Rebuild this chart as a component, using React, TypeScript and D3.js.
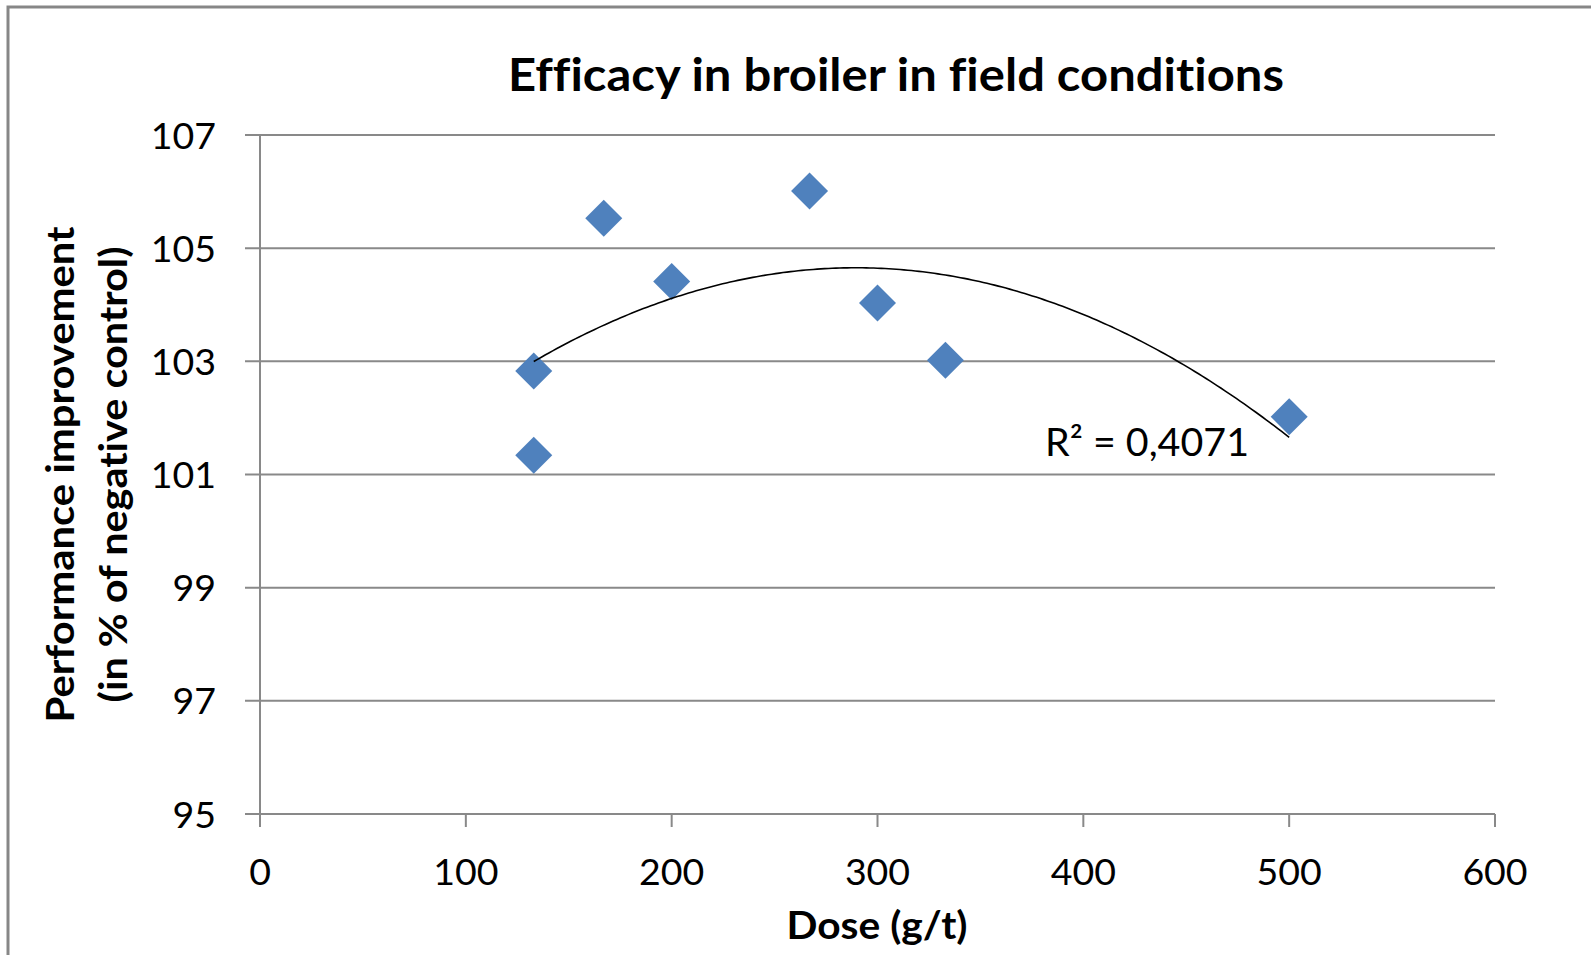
import React from 'react';
import * as d3 from 'd3';

// ---- data ----
const doses = [133, 133, 167, 200, 267, 300, 333, 500];
const performance = [102.83, 101.34, 105.53, 104.41, 106.01, 104.03, 103.02, 102.02];
const xTicks = [0, 100, 200, 300, 400, 500, 600];
const yTicks = [95, 97, 99, 101, 103, 105, 107];
const chartTitle = 'Efficacy in broiler in field conditions';
const xTitle = 'Dose (g/t)';
const yTitleLine1 = 'Performance improvement';
const yTitleLine2 = '(in % of negative control)';
const r2Label = 'R\u00B2 = 0,4071';

// polynomial (order 2) least-squares trend line, as Excel computes it
function quadFit(xs: number[], ys: number[]) {
  const S = (f: (x: number, y: number) => number) => xs.reduce((s, x, i) => s + f(x, ys[i]), 0);
  const n = xs.length;
  const s1 = S((x) => x), s2 = S((x) => x * x), s3 = S((x) => x ** 3), s4 = S((x) => x ** 4);
  const t0 = S((_, y) => y), t1 = S((x, y) => x * y), t2 = S((x, y) => x * x * y);
  const M = [
    [n, s1, s2, t0],
    [s1, s2, s3, t1],
    [s2, s3, s4, t2],
  ];
  for (let i = 0; i < 3; i++) {
    let p = i;
    for (let r = i + 1; r < 3; r++) if (Math.abs(M[r][i]) > Math.abs(M[p][i])) p = r;
    [M[i], M[p]] = [M[p], M[i]];
    for (let r = 0; r < 3; r++) {
      if (r === i) continue;
      const f = M[r][i] / M[i][i];
      for (let c = i; c < 4; c++) M[r][c] -= f * M[i][c];
    }
  }
  const a = M[0][3] / M[0][0], b = M[1][3] / M[1][1], c = M[2][3] / M[2][2];
  return (x: number) => a + b * x + c * x * x;
}

const W = 1591;
const H = 955;
const plot = { left: 260, right: 1495, top: 135, bottom: 814 };
const FONT = 'Lato, "Open Sans", sans-serif';
const GRID = '#898989';
const BLUE = '#4F81BD';
const noLig = { fontVariantLigatures: 'none' as const, fontFeatureSettings: '"liga" 0, "clig" 0' };
const MARKER_HALF = 18.5; // half-diagonal of diamond marker, px

export default function App() {
  const x = d3.scaleLinear().domain([0, 600]).range([plot.left, plot.right]);
  const y = d3.scaleLinear().domain([95, 107]).range([plot.bottom, plot.top]);

  const fit = quadFit(doses, performance);
  const xmin = d3.min(doses) as number;
  const xmax = d3.max(doses) as number;
  const trendPts = d3.range(0, 201).map((i) => xmin + ((xmax - xmin) * i) / 200);
  const trendPath = d3
    .line<number>()
    .x((d) => x(d))
    .y((d) => y(fit(d)))(trendPts) as string;

  const symSize = Math.pow(MARKER_HALF / 0.62625, 2);
  const diamond = d3.symbol().type(d3.symbolDiamond2).size(symSize)() as string;

  const points = doses.map((d, i) => ({ d, v: performance[i] }));

  return (
    <div style={{ position: 'absolute', left: 0, top: 0, width: W, height: H, overflow: 'hidden', background: '#fff' }}>
      <svg width={W} height={H} style={{ display: 'block', ...noLig }}>
        <rect x={0} y={0} width={W} height={H} fill="#fff" />
        {/* chart frame */}
        <rect x={8} y={7} width={W + 20} height={H + 20} fill="none" stroke="#878787" strokeWidth={3} />

        {/* title */}
        <text
          x={896}
          y={91}
          textAnchor="middle"
          fontFamily={FONT}
          fontWeight="bold"
          fontSize={46}
          fill="#000"
          textLength={776}
          lengthAdjust="spacingAndGlyphs"
          style={noLig}
        >
          {chartTitle}
        </text>

        {/* horizontal gridlines + y ticks */}
        {yTicks.map((t) => (
          <g key={'y' + t}>
            <line x1={plot.left - 15} x2={plot.right} y1={y(t)} y2={y(t)} stroke={GRID} strokeWidth={2} />
            <text
              x={216}
              y={y(t) + 13.5}
              textAnchor="end"
              fontFamily={FONT}
              fontSize={37.5}
              fill="#000"
            >
              {t}
            </text>
          </g>
        ))}

        {/* y axis line */}
        <line x1={plot.left} x2={plot.left} y1={plot.top} y2={plot.bottom} stroke={GRID} strokeWidth={2} />

        {/* x ticks */}
        {xTicks.map((t) => (
          <g key={'x' + t}>
            <line x1={x(t)} x2={x(t)} y1={plot.bottom} y2={plot.bottom + 13} stroke={GRID} strokeWidth={2} />
            <text x={x(t)} y={885} textAnchor="middle" fontFamily={FONT} fontSize={37.5} fill="#000">
              {t}
            </text>
          </g>
        ))}

        {/* axis titles */}
        <text
          x={877}
          y={939}
          textAnchor="middle"
          fontFamily={FONT}
          fontWeight="bold"
          fontSize={39}
          fill="#000"
          textLength={181}
          lengthAdjust="spacingAndGlyphs"
          style={noLig}
        >
          {xTitle}
        </text>
        <g transform={`translate(74, ${(plot.top + plot.bottom) / 2}) rotate(-90)`}>
          <text
            x={0}
            y={0}
            textAnchor="middle"
            fontFamily={FONT}
            fontWeight="bold"
            fontSize={39}
            fill="#000"
            textLength={496}
            lengthAdjust="spacingAndGlyphs"
            style={noLig}
          >
            {yTitleLine1}
          </text>
          <text
            x={0}
            y={53}
            textAnchor="middle"
            fontFamily={FONT}
            fontWeight="bold"
            fontSize={39}
            fill="#000"
            textLength={456}
            lengthAdjust="spacingAndGlyphs"
            style={noLig}
          >
            {yTitleLine2}
          </text>
        </g>

        {/* markers */}
        {points.map((p, i) => (
          <path key={'p' + i} d={diamond} transform={`translate(${x(p.d)}, ${y(p.v)})`} fill={BLUE} />
        ))}

        {/* trend line */}
        <path d={trendPath} fill="none" stroke="#000" strokeWidth={1.6} />

        {/* R² label */}
        <text
          x={1045}
          y={456}
          fontFamily={FONT}
          fontSize={39}
          fill="#000"
          textLength={204}
          lengthAdjust="spacingAndGlyphs"
        >
          {r2Label}
        </text>
      </svg>
    </div>
  );
}
